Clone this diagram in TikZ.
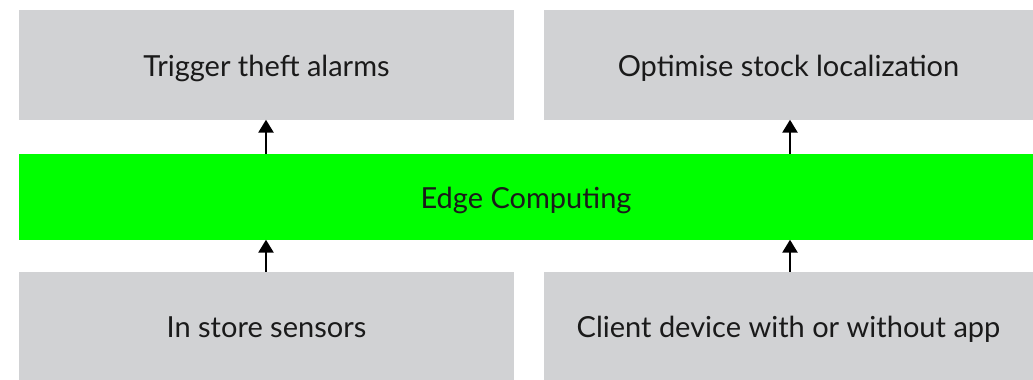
\documentclass[tikz,border=0pt]{standalone}
\usepackage{fontspec}
\setmainfont{Lato}
\usetikzlibrary{arrows.meta}
\definecolor{boxgray}{HTML}{D1D2D4}
\definecolor{edgegreen}{HTML}{00FF00}
\definecolor{txt}{HTML}{1A1A1A}
\tikzset{
  label text/.style={text=txt, font=\fontsize{29}{32}\selectfont, text height=24pt, text depth=0pt},
  graybox/.style={label text, fill=boxgray, draw=none, inner sep=0pt, minimum height=110pt, minimum width=495pt},
  greenbar/.style={label text, fill=edgegreen, draw=none, inner sep=0pt, minimum height=86pt, minimum width=1014pt},
  uparrow/.style={-{Triangle[width=15pt,length=13pt]}, line width=2.6pt, black, shorten >=-0.5pt}
}
\begin{document}
\begin{tikzpicture}[x=1pt,y=1pt]
\useasboundingbox (0,0) rectangle (1033,380);
\node[graybox] (tl) at (266.5,315) {Trigger theft alarms};
\node[graybox, minimum width=489pt] (tr) at (788.5,315) {Optimise stock localization};
\node[greenbar] (edge) at (526,183) {Edge Computing};
\node[graybox, minimum height=108pt] (bl) at (266.5,54) {In store sensors};
\node[graybox, minimum height=108pt, minimum width=489pt] (br) at (788.5,54) {Client device with or without app};
\coordinate (a1) at (266,226);
\coordinate (a2) at (790,226);
\coordinate (b1) at (266,108);
\coordinate (b2) at (790,108);
\draw[uparrow] (a1) -- (a1 |- tl.south);
\draw[uparrow] (a2) -- (a2 |- tr.south);
\draw[uparrow] (b1) -- (b1 |- edge.south);
\draw[uparrow] (b2) -- (b2 |- edge.south);
\end{tikzpicture}
\end{document}
